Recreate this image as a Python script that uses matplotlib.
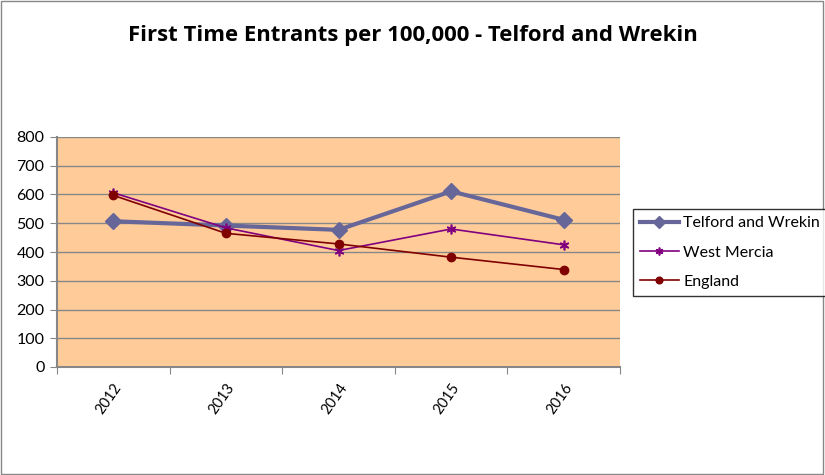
import matplotlib.pyplot as plt
from matplotlib.patches import Rectangle

# datos
years = ['2012', '2013', '2014', '2015', '2016']
telford = [507, 492, 477, 611, 512]
west_mercia = [606, 484, 405, 480, 425]
england = [597, 465, 428, 382, 339]

plt.rcParams['font.family'] = ['Lato', 'DejaVu Sans']

fig = plt.figure(figsize=(8.25, 4.75), dpi=100)
# caja del plot: x 57..620, y 137..367 (pixeles)
ax = fig.add_axes([57/825, 1 - 367/475, (620-57)/825, (367-137)/475])
ax.set_facecolor('#FFCC99')

x = range(len(years))
ax.plot(x, telford, color='#666699', lw=3, marker='D', ms=8, label='Telford and Wrekin')
ax.plot(x, west_mercia, color='#800080', lw=1.2, marker=(6, 2, 0), ms=7, mew=1.2, label='West Mercia')
ax.plot(x, england, color='#800000', lw=1.2, marker='o', ms=6, label='England')

ax.set_xlim(-0.5, len(years) - 0.5)
ax.set_ylim(0, 800)
ax.set_yticks(range(0, 801, 100))
ax.yaxis.grid(True, color='#878787', lw=1)
ax.set_axisbelow(True)

# ticks del eje x entre categorias
ax.set_xticks([i - 0.5 for i in range(len(years) + 1)])
ax.set_xticklabels([])
ax.set_xticks(list(x), minor=True)
ax.set_xticklabels(years, minor=True, rotation=55, ha='right', rotation_mode='anchor', fontsize=10.5)
ax.tick_params(axis='x', which='minor', length=0, pad=10)
ax.tick_params(axis='x', which='major', length=5, color='#878787')
ax.tick_params(axis='y', length=5, color='#878787', labelsize=11.5, pad=4)

for s in ['top', 'right']:
    ax.spines[s].set_visible(False)
for s in ['left', 'bottom']:
    ax.spines[s].set_color('#878787')
    ax.spines[s].set_linewidth(1.5)

fig.text(413/825, 1 - 35/475, 'First Time Entrants per 100,000 - Telford and Wrekin',
         ha='center', va='center', fontsize=15.9, fontweight='bold',
         family=['Open Sans', 'DejaVu Sans'])

leg = fig.legend(loc='upper left', bbox_to_anchor=(633/825, 1 - 209/475), fontsize=11.5,
                 frameon=True, fancybox=False, edgecolor='black', borderpad=0.45,
                 labelspacing=0.95, handlelength=2.4, handletextpad=0.3, markerscale=0.8,
                 borderaxespad=0)
leg.get_frame().set_linewidth(1)

fig.patches.append(Rectangle((0.001, 0.002), 0.997, 0.996, transform=fig.transFigure,
                             fill=False, edgecolor='#878787', lw=1))

fig.savefig('out.png', dpi=100)
